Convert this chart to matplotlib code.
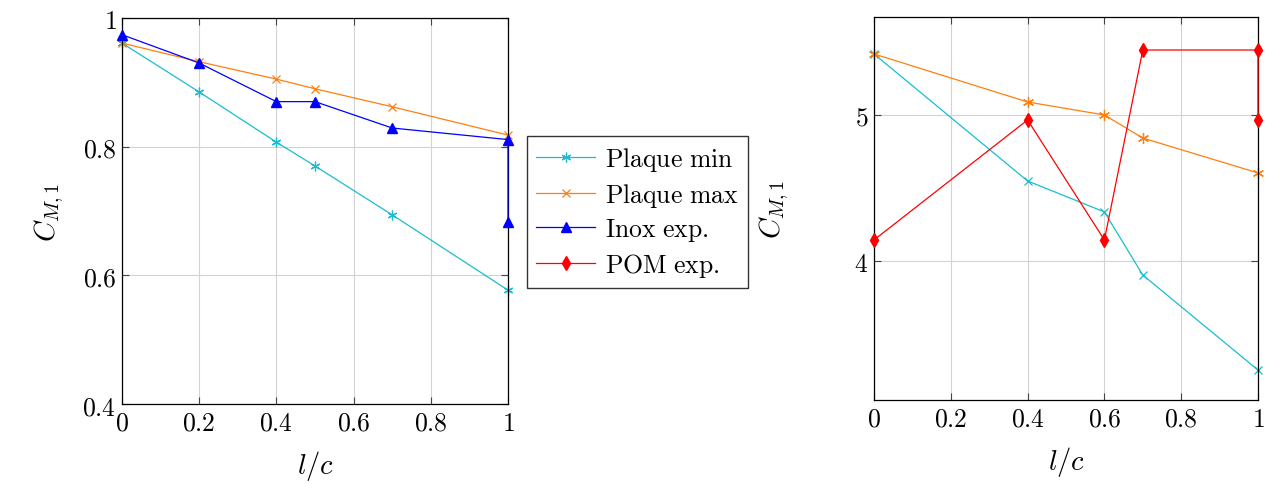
''' Coefficient C_M,1 vs l/c, plaque model vs experiments '''

import matplotlib
matplotlib.use("Agg")
from matplotlib import pyplot as plt
from matplotlib.ticker import FuncFormatter

plt.rcParams['mathtext.fontset'] = 'cm'
plt.rcParams['font.family'] = 'serif'
plt.rcParams['font.serif'] = ['DejaVu Serif']

# left panel
x_left = [0, 0.2, 0.4, 0.5, 0.7, 1]
plaque_min_left = [0.961, 0.885, 0.807, 0.770, 0.694, 0.577]
plaque_max_left = [0.961, 0.932, 0.905, 0.890, 0.862, 0.818]
x_inox = [0, 0.2, 0.4, 0.5, 0.7, 1, 1]
inox_exp = [0.974, 0.930, 0.870, 0.870, 0.829, 0.811, 0.683]

# right panel
x_right = [0, 0.4, 0.6, 0.7, 1]
plaque_min_right = [5.418, 4.548, 4.336, 3.904, 3.253]
plaque_max_right = [5.418, 5.089, 5.000, 4.842, 4.603]
x_pom = [0, 0.4, 0.6, 0.7, 1, 1]
pom_exp = [4.144, 4.966, 4.144, 5.445, 5.445, 4.966]

xticks = [0, 0.2, 0.4, 0.6, 0.8, 1]
yticks_left = [0.4, 0.6, 0.8, 1]
yticks_right = [4, 5]

cyan = '#17becf'
orange = '#ff7f0e'
fs = 18.5


def tex(v, pos=None):
    s = '%g' % v
    return '$' + s + '$'


fig = plt.figure(figsize=(12.74, 4.85), dpi=100)
W, H = 1274, 485
ax1 = fig.add_axes([122 / W, 1 - 405 / H, 386 / W, 386 / H])
ax2 = fig.add_axes([874 / W, 1 - 401 / H, 384 / W, 383 / H])

h1, = ax1.plot(x_left, plaque_min_left, color=cyan, marker=(6, 2, 0), ms=7, mew=0.9, lw=0.9,
               label=r'$\mathrm{Plaque\ min}$', clip_on=False)
h2, = ax1.plot(x_left, plaque_max_left, color=orange, marker='x', ms=6, mew=0.9, lw=0.9,
               label=r'$\mathrm{Plaque\ max}$', clip_on=False)
h3, = ax1.plot(x_inox, inox_exp, color='blue', marker='^', ms=7, lw=0.9,
               label=r'$\mathrm{Inox\ exp.}$', clip_on=False, zorder=4)

ax2.plot(x_right, plaque_min_right, color=cyan, marker='x', ms=6, mew=0.9, lw=0.9, clip_on=False)
ax2.plot(x_right, plaque_max_right, color=orange, marker=(6, 2, 0), ms=8, mew=0.9, lw=0.9, clip_on=False)
h4, = ax2.plot(x_pom, pom_exp, color='red', marker='d', ms=7, lw=0.9,
               label=r'$\mathrm{POM\ exp.}$', clip_on=False, zorder=4)

ax1.set_xlim(0, 1)
ax1.set_ylim(0.4, 1)
ax1.set_yticks(yticks_left)
ax2.set_xlim(0, 1)
ax2.set_ylim(3.048, 5.671)
ax2.set_yticks(yticks_right)

for ax in (ax1, ax2):
    ax.set_xticks(xticks)
    ax.xaxis.set_major_formatter(FuncFormatter(tex))
    ax.yaxis.set_major_formatter(FuncFormatter(tex))
    ax.tick_params(direction='in', top=True, right=True, labelsize=fs, length=5,
                   width=0.8, color='#444444', pad=4)
    ax.grid(True, color='#d3d3d3', lw=0.8)
    ax.set_axisbelow(True)
    for sp in ax.spines.values():
        sp.set_linewidth(0.9)
    ax.set_xlabel(r'$l/c$', fontsize=fs + 2, labelpad=10)

ax1.set_ylabel(r'$C_{M,1}$', fontsize=fs + 2, labelpad=12)
ax2.set_ylabel(r'$C_{M,1}$', fontsize=fs + 2, labelpad=46)

fig.legend(handles=[h1, h2, h3, h4], loc='upper left',
           bbox_to_anchor=(527 / W, 1 - 137 / H), fontsize=fs,
           frameon=True, fancybox=False, edgecolor='#333333', framealpha=1,
           handlelength=2.3, handletextpad=0.4, borderpad=0.35, labelspacing=0.3,
           borderaxespad=0)

fig.savefig('out.png', dpi=100)
